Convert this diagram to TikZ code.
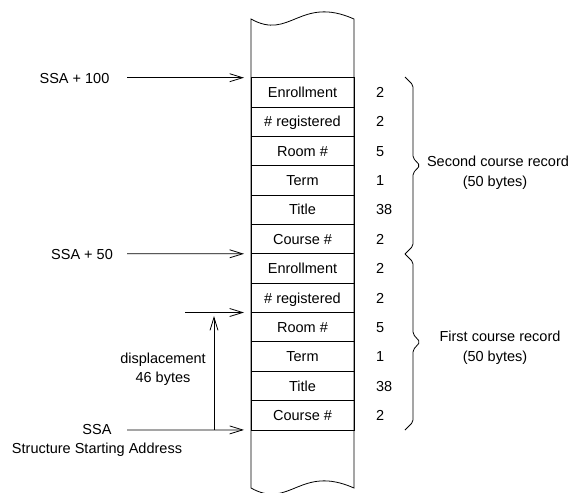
\documentclass[tikz,border=0pt]{standalone}
\usepackage{fontspec}
\setmainfont{Liberation Sans}
\usetikzlibrary{arrows.meta}
\begin{document}
\begin{tikzpicture}[x=1pt,y=-1pt,
  every node/.style={inner sep=0pt, outer sep=0pt, font=\fontsize{14.5}{17}\selectfont},
  ln/.style={line width=0.8pt},
  cell/.style={ln, draw, minimum width=103pt, minimum height=29.35pt, anchor=north, text height=10.4pt, text depth=0pt},
  num/.style={anchor=west, text height=10.4pt, text depth=0pt},
  lbl/.style={anchor=base},
  arr/.style={ln, -{Straight Barb[length=13pt,width=8pt]}},
  bracepath/.style={ln, rounded corners=2pt}
  ]
\useasboundingbox (0,0) rectangle (574,493);
% column outline with wavy ends
\draw[ln] (251,19) .. controls (290,41) and (300,-5) .. (354,19) -- (354,488)
  .. controls (300,464) and (290,510) .. (251,488) -- cycle;
% cells
\foreach \i/\t/\n in {0/Enrollment/2, 1/\# registered/2, 2/Room \#/5, 3/Term/1, 4/Title/38, 5/Course \#/2,
                      6/Enrollment/2, 7/\# registered/2, 8/Room \#/5, 9/Term/1, 10/Title/38, 11/Course \#/2} {
  \node[cell] (r\i) at (302.5, 77.7+29.35*\i) {\t};
  \node[num] (n\i) at ([xshift=22pt]r\i.east) {\n};
}
% left labels
\node[lbl] (l100) at (74.5,83) {SSA + 100};
\node[lbl] (l50) at (82,259) {SSA + 50};
\node[lbl] (lssa) at (97,434.5) {SSA};
\node[lbl] (lsa) at (97,453) {Structure Starting Address};
\node[lbl] (ldisp) at (163,363) {displacement};
\node[lbl] (lbytes) at (163,382) {46 bytes};
% right labels
\node[lbl] (rs1) at (498,166) {Second course record};
\node[lbl] (rs2) at (495,186) {(50 bytes)};
\node[lbl] (rf1) at (500,341) {First course record};
\node[lbl] (rf2) at (495,361) {(50 bytes)};
% arrows
\coordinate (a100) at (127,77.7);
\coordinate (a50) at (127,253.8);
\coordinate (assa) at (127,429.9);
\coordinate (a46) at (185,312.5);
\coordinate (dbot) at (214,429.9);
\coordinate (dtop) at (214,316);
\draw[arr] (a100) -- ([xshift=-7pt]r0.north west);
\draw[arr] (a50) -- ([xshift=-7pt]r6.north west);
\draw[arr] (assa) -- ([xshift=-7pt]r11.south west);
\draw[arr] (a46) -- ([xshift=-7pt]r8.north west);
\draw[arr] (dbot) -- (dtop);
% braces
\draw[bracepath] (405,77) -- (413,85) -- (413,158) -- (420,165.5) -- (413,173) -- (413,246) -- (405,254);
\draw[bracepath] (405,254) -- (413,262) -- (413,334) -- (420,342) -- (413,350) -- (413,422) -- (405,430);
\end{tikzpicture}
\end{document}
